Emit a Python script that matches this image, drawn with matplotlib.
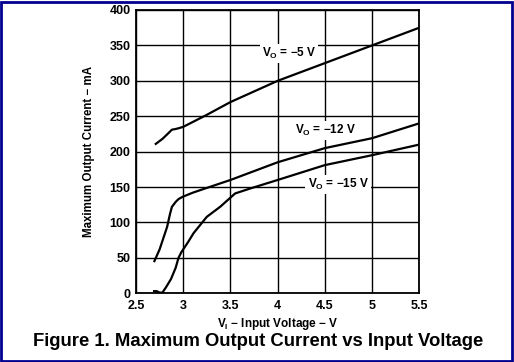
import matplotlib
matplotlib.use("Agg")
import matplotlib.pyplot as plt
from matplotlib.patches import Rectangle

plt.rcParams['font.family'] = ['Liberation Sans', 'DejaVu Sans']
plt.rcParams['mathtext.fontset'] = 'custom'
plt.rcParams['mathtext.rm'] = 'Liberation Sans:bold'
plt.rcParams['mathtext.it'] = 'Liberation Sans:bold'
plt.rcParams['mathtext.bf'] = 'Liberation Sans:bold'
plt.rcParams['mathtext.default'] = 'regular'

# Data
vi_5 = [2.70, 2.78, 2.85, 2.88, 2.92, 2.95, 3.0, 3.25, 3.5, 4.0, 4.5, 5.0, 5.5]
io_5 = [210, 218, 227, 231, 232, 233, 235, 252, 270, 300, 325, 350, 375]

vi_12 = [2.69, 2.75, 2.79, 2.83, 2.86, 2.88, 2.92, 2.95, 2.99, 3.1, 3.21, 3.5, 4.0, 4.5, 5.0, 5.5]
io_12 = [44, 62, 78, 94, 112, 122, 129, 133, 136, 142, 147, 160, 185, 205, 219, 240]

vi_15 = [2.68, 2.72, 2.75, 2.78, 2.82, 2.87, 2.92, 2.95, 2.98, 3.05, 3.11, 3.25, 3.39, 3.55, 3.71, 4.0, 4.5, 5.0, 5.5]
io_15 = [3, 3, 1, 1, 9, 20, 36, 50, 58, 72, 85, 108, 122, 141, 148, 160, 181, 195, 210]

x_ticks = [2.5, 3, 3.5, 4, 4.5, 5, 5.5]
x_ticklabels = ['2.5', '3', '3.5', '4', '4.5', '5', '5.5']
y_ticks = [0, 50, 100, 150, 200, 250, 300, 350, 400]

labels = ['V$_{\\mathregular{O}}$ = \u22125 V', 'V$_{\\mathregular{O}}$ = \u221212 V', 'V$_{\\mathregular{O}}$ = \u221215 V']
label_pos = [(4.12, 339), (4.51, 230), (4.64, 154)]

fig = plt.figure(figsize=(5.14, 3.62), dpi=100)
fig.patch.set_facecolor('white')
ax = fig.add_axes([136/514, 1-293.3/362, (419.3-136)/514, (293.3-10)/362])

for xs, ys in [(vi_5, io_5), (vi_12, io_12), (vi_15, io_15)]:
    ax.plot(xs, ys, color='black', lw=1.6, solid_capstyle='butt', zorder=3)

ax.set_xlim(2.5, 5.5)
ax.set_ylim(0, 400)
ax.set_xticks(x_ticks)
ax.set_xticklabels(x_ticklabels)
ax.set_yticks(y_ticks)
ax.grid(True, color='black', lw=1.0)
ax.tick_params(axis='x', length=0, pad=5, labelsize=9)
ax.tick_params(axis='y', length=0, pad=4, labelsize=9)
for lab in ax.get_xticklabels() + ax.get_yticklabels():
    lab.set_fontweight('bold')
for sp in ax.spines.values():
    sp.set_linewidth(1.3)
    sp.set_color('black')

for txt, (x, y) in zip(labels, label_pos):
    ax.text(x, y, txt, ha='center', va='center', fontsize=8.5, fontweight='bold',
            bbox=dict(facecolor='white', edgecolor='none', pad=1.5), zorder=4)

ax.set_xlabel('V$_{\\mathregular{I}}$ \u2212 Input Voltage \u2212 V', fontsize=8.5, fontweight='bold', labelpad=2.5)
ax.set_ylabel('Maximum Output Current \u2212 mA', fontsize=8.3, fontweight='bold', labelpad=10)

fig.text(258/514, 1-342/362, 'Figure 1. Maximum Output Current vs Input Voltage',
         ha='center', va='center', fontsize=13.3, fontweight='bold')

fig.patches.append(Rectangle((1/514, 1/362), 511/514, 359/362, transform=fig.transFigure,
                             fill=False, edgecolor='#00008f', lw=2.0))

fig.savefig('out.png', dpi=100)
